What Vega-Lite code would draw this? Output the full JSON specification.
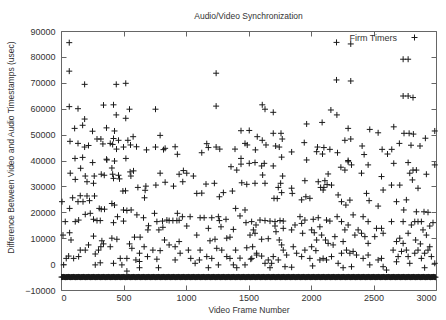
{
  "$schema": "https://vega.github.io/schema/vega-lite/v6.json",
  "width": 375,
  "height": 259,
  "autosize": "none",
  "padding": {"left": 61, "top": 31, "right": 10, "bottom": 30},
  "background": "white",
  "title": {"text": "Audio/Video Synchronization", "fontSize": 8.5, "font": "Liberation Sans", "fontWeight": "normal", "color": "#333333", "offset": 7, "anchor": "middle"},
  "config": {
    "view": {"stroke": "#666666", "strokeWidth": 1},
    "axis": {"grid": false, "domain": false, "tickColor": "#666666", "tickSize": -5, "labelFont": "Liberation Sans", "labelFontSize": 9, "labelColor": "#333333", "titleFont": "Liberation Sans", "titleFontSize": 8.5, "titleFontWeight": "normal", "titleColor": "#333333", "format": "d"}
  },
  "datasets": {
    "pts": [
      {"f":66,"d":85500},{"f":66,"d":74500},{"f":189,"d":69400},{"f":442,"d":69400},{"f":518,"d":69800},{"f":1241,"d":73700},{"f":1241,"d":61000},{"f":66,"d":60800},{"f":136,"d":60000},{"f":340,"d":61400},{"f":420,"d":61500},{"f":548,"d":59800},{"f":756,"d":59800},{"f":442,"d":57600},{"f":518,"d":56300},{"f":189,"d":56000},{"f":173,"d":53600},{"f":109,"d":52400},{"f":364,"d":52600},{"f":252,"d":51300},{"f":428,"d":51400},{"f":1440,"d":51500},{"f":1506,"d":51600},{"f":793,"d":49700},{"f":1570,"d":49200},{"f":577,"d":49200},{"f":72,"d":47400},{"f":288,"d":48300},{"f":319,"d":48300},{"f":420,"d":48500},{"f":136,"d":46600},{"f":335,"d":46400},{"f":394,"d":46600},{"f":413,"d":46200},{"f":460,"d":47800},{"f":535,"d":47800},{"f":556,"d":46000},{"f":189,"d":45200},{"f":220,"d":45800},{"f":444,"d":44400},{"f":500,"d":45200},{"f":604,"d":45300},{"f":684,"d":44100},{"f":756,"d":45200},{"f":820,"d":44200},{"f":833,"d":44700},{"f":913,"d":45300},{"f":931,"d":42400},{"f":1126,"d":43000},{"f":1166,"d":46500},{"f":1179,"d":45000},{"f":1241,"d":45200},{"f":1270,"d":44400},{"f":1392,"d":44400},{"f":1472,"d":46600},{"f":1490,"d":46000},{"f":1555,"d":44100},{"f":112,"d":40800},{"f":173,"d":41200},{"f":519,"d":40800},{"f":364,"d":40500},{"f":1440,"d":40800},
      {"f":2204,"d":85600},{"f":2318,"d":85000},{"f":2204,"d":71100},{"f":2318,"d":70700},{"f":2737,"d":79100},{"f":2777,"d":79100},{"f":2737,"d":64900},{"f":2777,"d":64900},{"f":2816,"d":64300},{"f":1610,"d":61500},{"f":1632,"d":59800},{"f":1698,"d":58600},{"f":2159,"d":59500},{"f":2207,"d":57600},{"f":2089,"d":54700},{"f":1965,"d":54100},{"f":2297,"d":52400},{"f":2470,"d":52000},{"f":2537,"d":50700},{"f":2662,"d":53000},{"f":2744,"d":50500},{"f":2785,"d":50500},{"f":2819,"d":50200},{"f":2990,"d":51400},{"f":1610,"d":47800},{"f":1640,"d":46000},{"f":1698,"d":50500},{"f":1760,"d":50500},{"f":1770,"d":48300},{"f":1717,"d":45600},{"f":1746,"d":45200},{"f":1946,"d":46900},{"f":1845,"d":43300},{"f":2052,"d":45200},{"f":2103,"d":45000},{"f":2045,"d":43400},{"f":2092,"d":42500},{"f":2151,"d":44300},{"f":2212,"d":43000},{"f":2271,"d":47800},{"f":2318,"d":48300},{"f":2409,"d":45600},{"f":2425,"d":42300},{"f":2569,"d":44300},{"f":2612,"d":42500},{"f":2646,"d":44300},{"f":2707,"d":46600},{"f":2800,"d":45900},{"f":2872,"d":45600},{"f":2915,"d":48600},{"f":1765,"d":41300},{"f":2297,"d":40000},{"f":1965,"d":40200},
      {"f":367,"d":40200},{"f":428,"d":39800},{"f":253,"d":39200},{"f":74,"d":35100},{"f":157,"d":37000},{"f":194,"d":34000},{"f":114,"d":32700},{"f":266,"d":34000},{"f":322,"d":34700},{"f":346,"d":34300},{"f":407,"d":37100},{"f":413,"d":34700},{"f":460,"d":34300},{"f":553,"d":35600},{"f":580,"d":36000},{"f":559,"d":34000},{"f":208,"d":31800},{"f":260,"d":31200},{"f":420,"d":33100},{"f":468,"d":32900},{"f":495,"d":28200},{"f":516,"d":28300},{"f":615,"d":29600},{"f":679,"d":30100},{"f":673,"d":28500},{"f":668,"d":25600},{"f":759,"d":30500},{"f":793,"d":35100},{"f":833,"d":31600},{"f":900,"d":30100},{"f":945,"d":34700},{"f":979,"d":36100},{"f":1006,"d":35100},{"f":1059,"d":34000},{"f":974,"d":31800},{"f":1086,"d":27300},{"f":1126,"d":27400},{"f":1160,"d":30900},{"f":1227,"d":31200},{"f":1267,"d":26000},{"f":1299,"d":27600},{"f":1360,"d":37600},{"f":1406,"d":36300},{"f":1440,"d":38600},{"f":1506,"d":38900},{"f":1446,"d":31400},{"f":1486,"d":30800},{"f":1552,"d":31200},{"f":1371,"d":28200},{"f":1397,"d":21500},{"f":1432,"d":18600},{"f":1472,"d":20900},
      {"f":8,"d":24100},{"f":34,"d":16400},{"f":93,"d":25600},{"f":69,"d":21500},{"f":136,"d":24100},{"f":154,"d":26400},{"f":176,"d":24100},{"f":208,"d":26300},{"f":268,"d":26300},{"f":228,"d":24500},{"f":194,"d":19200},{"f":234,"d":19600},{"f":260,"d":17300},{"f":306,"d":21500},{"f":322,"d":21200},{"f":348,"d":21200},{"f":288,"d":16800},{"f":314,"d":16800},{"f":407,"d":23400},{"f":428,"d":22800},{"f":500,"d":20900},{"f":527,"d":20700},{"f":561,"d":20900},{"f":452,"d":18300},{"f":420,"d":16000},{"f":500,"d":16600},{"f":607,"d":19000},{"f":660,"d":17900},{"f":700,"d":14800},{"f":748,"d":19600},{"f":767,"d":16400},{"f":812,"d":16600},{"f":847,"d":17000},{"f":865,"d":16800},{"f":895,"d":16800},{"f":927,"d":16800},{"f":945,"d":16900},{"f":815,"d":14200},{"f":783,"d":13200},{"f":695,"d":13200},{"f":633,"d":10400},{"f":588,"d":10400},{"f":931,"d":19600},{"f":971,"d":18300},{"f":1033,"d":18300},{"f":1006,"d":14700},{"f":1086,"d":11200},{"f":1113,"d":17900},{"f":1145,"d":17900},{"f":1179,"d":13800},{"f":1206,"d":17900},{"f":1259,"d":18300},{"f":1267,"d":16800},{"f":1280,"d":14400},{"f":1320,"d":17300},{"f":1379,"d":13400},{"f":1352,"d":10400},{"f":1326,"d":10000},{"f":1232,"d":9600},{"f":1192,"d":9000},{"f":1246,"d":6100},{"f":1286,"d":5400},{"f":1326,"d":2900},{"f":1397,"d":5400},{"f":1432,"d":2300},{"f":1472,"d":-300},{"f":1518,"d":1900},{"f":1486,"d":6300},{"f":1512,"d":11200},{"f":1539,"d":13200},{"f":1560,"d":15100},{"f":1480,"d":16000},
      {"f":16,"d":11200},{"f":69,"d":12100},{"f":80,"d":9300},{"f":114,"d":16400},{"f":141,"d":17000},{"f":61,"d":3100},{"f":101,"d":2200},{"f":21,"d":-300},{"f":42,"d":2200},{"f":141,"d":2900},{"f":154,"d":5400},{"f":194,"d":5400},{"f":220,"d":7400},{"f":260,"d":10800},{"f":274,"d":3900},{"f":300,"d":5400},{"f":319,"d":6700},{"f":340,"d":7800},{"f":327,"d":9000},{"f":314,"d":500},{"f":274,"d":-300},{"f":394,"d":6700},{"f":407,"d":10000},{"f":447,"d":9600},{"f":474,"d":2200},{"f":527,"d":2200},{"f":487,"d":-300},{"f":420,"d":300},{"f":548,"d":7800},{"f":567,"d":6100},{"f":599,"d":1600},{"f":628,"d":4200},{"f":628,"d":1000},{"f":665,"d":6700},{"f":692,"d":2900},{"f":735,"d":5400},{"f":767,"d":1900},{"f":793,"d":5200},{"f":828,"d":9300},{"f":865,"d":7400},{"f":913,"d":6700},{"f":945,"d":8700},{"f":913,"d":1600},{"f":953,"d":4200},{"f":780,"d":-1400},{"f":628,"d":-1400},{"f":527,"d":-2700},{"f":1019,"d":5400},{"f":1038,"d":2200},{"f":1073,"d":300},{"f":1107,"d":1600},{"f":1113,"d":5400},{"f":1166,"d":2900},{"f":1206,"d":2200},{"f":1179,"d":-1400},{"f":1259,"d":-300},{"f":1352,"d":2200},{"f":1379,"d":-300},{"f":1406,"d":-1400},{"f":1526,"d":2200},{"f":1565,"d":4200},
      {"f":1552,"d":39200},{"f":1605,"d":37900},{"f":1626,"d":38900},{"f":1698,"d":37900},{"f":1613,"d":34400},{"f":1632,"d":31200},{"f":1738,"d":29600},{"f":1757,"d":31200},{"f":1773,"d":34000},{"f":1765,"d":27600},{"f":1704,"d":25400},{"f":1730,"d":25300},{"f":1845,"d":29300},{"f":1850,"d":27300},{"f":1951,"d":32200},{"f":1925,"d":24800},{"f":1959,"d":26000},{"f":1991,"d":25400},{"f":2058,"d":31800},{"f":2077,"d":29600},{"f":2103,"d":29600},{"f":2129,"d":30700},{"f":2164,"d":30500},{"f":2097,"d":28600},{"f":2137,"d":34800},{"f":2111,"d":32200},{"f":2217,"d":26700},{"f":2239,"d":37400},{"f":2271,"d":36300},{"f":2297,"d":39500},{"f":2324,"d":38300},{"f":2244,"d":24100},{"f":2279,"d":22800},{"f":2311,"d":24700},{"f":2337,"d":19000},{"f":2404,"d":35100},{"f":2457,"d":38300},{"f":2444,"d":27300},{"f":2465,"d":24500},{"f":2537,"d":22400},{"f":2564,"d":33800},{"f":2577,"d":28600},{"f":2644,"d":30500},{"f":2662,"d":38900},{"f":2710,"d":30500},{"f":2684,"d":24100},{"f":2742,"d":20900},{"f":2777,"d":39200},{"f":2790,"d":35100},{"f":2816,"d":36300},{"f":2843,"d":36300},{"f":2923,"d":34700},{"f":2811,"d":32500},{"f":2856,"d":29300},{"f":2763,"d":24800},{"f":2843,"d":20200},{"f":2904,"d":20200},{"f":2936,"d":20000},{"f":2990,"d":38300},
      {"f":1525,"d":16400},{"f":1592,"d":17000},{"f":1632,"d":16800},{"f":1672,"d":16600},{"f":1712,"d":16400},{"f":1752,"d":16800},{"f":1778,"d":16600},{"f":1552,"d":11900},{"f":1605,"d":9600},{"f":1658,"d":9800},{"f":1712,"d":14700},{"f":1720,"d":12500},{"f":1778,"d":13800},{"f":1746,"d":9300},{"f":1533,"d":6700},{"f":1565,"d":3500},{"f":1605,"d":3100},{"f":1632,"d":300},{"f":1658,"d":1600},{"f":1685,"d":300},{"f":1672,"d":-1400},{"f":1698,"d":2900},{"f":1738,"d":1600},{"f":1778,"d":5400},{"f":1765,"d":7400},{"f":1792,"d":-1000},{"f":1845,"d":-1200},{"f":1805,"d":3500},{"f":1845,"d":13200},{"f":1872,"d":15100},{"f":1858,"d":6700},{"f":1885,"d":4200},{"f":1925,"d":15700},{"f":1912,"d":18300},{"f":1951,"d":17000},{"f":1933,"d":11900},{"f":1951,"d":5400},{"f":1925,"d":2900},{"f":2018,"d":17300},{"f":2058,"d":17900},{"f":2005,"d":13200},{"f":2026,"d":12100},{"f":2071,"d":14400},{"f":2045,"d":9300},{"f":2085,"d":11200},{"f":2124,"d":17000},{"f":2151,"d":16600},{"f":2116,"d":9300},{"f":2137,"d":8000},{"f":2177,"d":7400},{"f":2191,"d":10600},{"f":2005,"d":6700},{"f":2039,"d":5200},{"f":1991,"d":2200},{"f":2013,"d":-700},{"f":2071,"d":1600},{"f":2097,"d":2200},{"f":2124,"d":1600},{"f":2164,"d":2900},{"f":2217,"d":300},{"f":2209,"d":18300},{"f":2244,"d":16400},{"f":2271,"d":13200},{"f":2297,"d":15100},{"f":2257,"d":8700},{"f":2284,"d":5400},{"f":2244,"d":4200},{"f":2311,"d":4200},{"f":2337,"d":4900},{"f":2364,"d":3500},{"f":2257,"d":-1400},{"f":2324,"d":-1000},{"f":2351,"d":11200},{"f":2377,"d":13200},{"f":2404,"d":11900},{"f":2431,"d":10600},{"f":2457,"d":8000},{"f":2417,"d":18300},{"f":2457,"d":16400},{"f":2524,"d":13800},{"f":2564,"d":13800},{"f":2577,"d":11900},{"f":2510,"d":10600},{"f":2457,"d":3500},{"f":2417,"d":2200},{"f":2470,"d":-300},{"f":2537,"d":1600},{"f":2564,"d":2200},{"f":2577,"d":-1000},{"f":2604,"d":-2300},{"f":2644,"d":16400},{"f":2684,"d":8700},{"f":2710,"d":10000},{"f":2737,"d":8000},{"f":2657,"d":5400},{"f":2697,"d":2900},{"f":2724,"d":4900},{"f":2763,"d":5400},{"f":2777,"d":2900},{"f":2790,"d":300},{"f":2830,"d":4200},{"f":2856,"d":5400},{"f":2883,"d":2200},{"f":2909,"d":4200},{"f":2936,"d":5400},{"f":2963,"d":2900},{"f":2684,"d":900},{"f":2737,"d":16400},{"f":2777,"d":11900},{"f":2803,"d":15100},{"f":2830,"d":16400},{"f":2856,"d":16400},{"f":2883,"d":16400},{"f":2896,"d":13200},{"f":2923,"d":11200},{"f":2950,"d":14700},{"f":2976,"d":16000},{"f":2837,"d":9300},{"f":2875,"d":7800},{"f":2950,"d":6700},{"f":2990,"d":300},{"f":2909,"d":-1400}
    ],
    "band": [
      {"f":4,"d":-5000},{"f":12,"d":-5000},{"f":20,"d":-4950},{"f":28,"d":-5000},{"f":36,"d":-5050},{"f":44,"d":-5000},{"f":52,"d":-5000},{"f":60,"d":-4950},{"f":68,"d":-5000},{"f":76,"d":-5050},
      {"f":84,"d":-5000},{"f":92,"d":-5000},{"f":100,"d":-4950},{"f":108,"d":-5000},{"f":116,"d":-5050},{"f":124,"d":-5000},{"f":132,"d":-5000},{"f":140,"d":-4950},{"f":148,"d":-5000},{"f":156,"d":-5050},
      {"f":164,"d":-5000},{"f":172,"d":-5000},{"f":180,"d":-4950},{"f":188,"d":-5000},{"f":196,"d":-5050},{"f":204,"d":-5000},{"f":212,"d":-5000},{"f":220,"d":-4950},{"f":228,"d":-5000},{"f":236,"d":-5050},
      {"f":244,"d":-5000},{"f":252,"d":-5000},{"f":260,"d":-4950},{"f":268,"d":-5000},{"f":276,"d":-5050},{"f":284,"d":-5000},{"f":292,"d":-5000},{"f":300,"d":-4950},{"f":308,"d":-5000},{"f":316,"d":-5050},
      {"f":324,"d":-5000},{"f":332,"d":-5000},{"f":340,"d":-4950},{"f":348,"d":-5000},{"f":356,"d":-5050},{"f":364,"d":-5000},{"f":372,"d":-5000},{"f":380,"d":-4950},{"f":388,"d":-5000},{"f":396,"d":-5050},
      {"f":404,"d":-5000},{"f":412,"d":-5000},{"f":420,"d":-4950},{"f":428,"d":-5000},{"f":436,"d":-5050},{"f":444,"d":-5000},{"f":452,"d":-5000},{"f":460,"d":-4950},{"f":468,"d":-5000},{"f":476,"d":-5050},
      {"f":484,"d":-5000},{"f":492,"d":-5000},{"f":500,"d":-4950},{"f":508,"d":-5000},{"f":516,"d":-5050},{"f":524,"d":-5000},{"f":532,"d":-5000},{"f":540,"d":-4950},{"f":548,"d":-5000},{"f":556,"d":-5050},
      {"f":564,"d":-5000},{"f":572,"d":-5000},{"f":580,"d":-4950},{"f":588,"d":-5000},{"f":596,"d":-5050},{"f":604,"d":-5000},{"f":612,"d":-5000},{"f":620,"d":-4950},{"f":628,"d":-5000},{"f":636,"d":-5050},
      {"f":644,"d":-5000},{"f":652,"d":-5000},{"f":660,"d":-4950},{"f":668,"d":-5000},{"f":676,"d":-5050},{"f":684,"d":-5000},{"f":692,"d":-5000},{"f":700,"d":-4950},{"f":708,"d":-5000},{"f":716,"d":-5050},
      {"f":724,"d":-5000},{"f":732,"d":-5000},{"f":740,"d":-4950},{"f":748,"d":-5000},{"f":756,"d":-5050},{"f":764,"d":-5000},{"f":772,"d":-5000},{"f":780,"d":-4950},{"f":788,"d":-5000},{"f":796,"d":-5050},
      {"f":804,"d":-5000},{"f":812,"d":-5000},{"f":820,"d":-4950},{"f":828,"d":-5000},{"f":836,"d":-5050},{"f":844,"d":-5000},{"f":852,"d":-5000},{"f":860,"d":-4950},{"f":868,"d":-5000},{"f":876,"d":-5050},
      {"f":884,"d":-5000},{"f":892,"d":-5000},{"f":900,"d":-4950},{"f":908,"d":-5000},{"f":916,"d":-5050},{"f":924,"d":-5000},{"f":932,"d":-5000},{"f":940,"d":-4950},{"f":948,"d":-5000},{"f":956,"d":-5050},
      {"f":964,"d":-5000},{"f":972,"d":-5000},{"f":980,"d":-4950},{"f":988,"d":-5000},{"f":996,"d":-5050},{"f":1004,"d":-5000},{"f":1012,"d":-5000},{"f":1020,"d":-4950},{"f":1028,"d":-5000},{"f":1036,"d":-5050},
      {"f":1044,"d":-5000},{"f":1052,"d":-5000},{"f":1060,"d":-4950},{"f":1068,"d":-5000},{"f":1076,"d":-5050},{"f":1084,"d":-5000},{"f":1092,"d":-5000},{"f":1100,"d":-4950},{"f":1108,"d":-5000},{"f":1116,"d":-5050},
      {"f":1124,"d":-5000},{"f":1132,"d":-5000},{"f":1140,"d":-4950},{"f":1148,"d":-5000},{"f":1156,"d":-5050},{"f":1164,"d":-5000},{"f":1172,"d":-5000},{"f":1180,"d":-4950},{"f":1188,"d":-5000},{"f":1196,"d":-5050},
      {"f":1204,"d":-5000},{"f":1212,"d":-5000},{"f":1220,"d":-4950},{"f":1228,"d":-5000},{"f":1236,"d":-5050},{"f":1244,"d":-5000},{"f":1252,"d":-5000},{"f":1260,"d":-4950},{"f":1268,"d":-5000},{"f":1276,"d":-5050},
      {"f":1284,"d":-5000},{"f":1292,"d":-5000},{"f":1300,"d":-4950},{"f":1308,"d":-5000},{"f":1316,"d":-5050},{"f":1324,"d":-5000},{"f":1332,"d":-5000},{"f":1340,"d":-4950},{"f":1348,"d":-5000},{"f":1356,"d":-5050},
      {"f":1364,"d":-5000},{"f":1372,"d":-5000},{"f":1380,"d":-4950},{"f":1388,"d":-5000},{"f":1396,"d":-5050},{"f":1404,"d":-5000},{"f":1412,"d":-5000},{"f":1420,"d":-4950},{"f":1428,"d":-5000},{"f":1436,"d":-5050},
      {"f":1444,"d":-5000},{"f":1452,"d":-5000},{"f":1460,"d":-4950},{"f":1468,"d":-5000},{"f":1476,"d":-5050},{"f":1484,"d":-5000},{"f":1492,"d":-5000},{"f":1500,"d":-4950},{"f":1508,"d":-5000},{"f":1516,"d":-5050},
      {"f":1524,"d":-5000},{"f":1532,"d":-5000},{"f":1540,"d":-4950},{"f":1548,"d":-5000},{"f":1556,"d":-5050},{"f":1564,"d":-5000},{"f":1572,"d":-5000},{"f":1580,"d":-4950},{"f":1588,"d":-5000},{"f":1596,"d":-5050},
      {"f":1604,"d":-5000},{"f":1612,"d":-5000},{"f":1620,"d":-4950},{"f":1628,"d":-5000},{"f":1636,"d":-5050},{"f":1644,"d":-5000},{"f":1652,"d":-5000},{"f":1660,"d":-4950},{"f":1668,"d":-5000},{"f":1676,"d":-5050},
      {"f":1684,"d":-5000},{"f":1692,"d":-5000},{"f":1700,"d":-4950},{"f":1708,"d":-5000},{"f":1716,"d":-5050},{"f":1724,"d":-5000},{"f":1732,"d":-5000},{"f":1740,"d":-4950},{"f":1748,"d":-5000},{"f":1756,"d":-5050},
      {"f":1764,"d":-5000},{"f":1772,"d":-5000},{"f":1780,"d":-4950},{"f":1788,"d":-5000},{"f":1796,"d":-5050},{"f":1804,"d":-5000},{"f":1812,"d":-5000},{"f":1820,"d":-4950},{"f":1828,"d":-5000},{"f":1836,"d":-5050},
      {"f":1844,"d":-5000},{"f":1852,"d":-5000},{"f":1860,"d":-4950},{"f":1868,"d":-5000},{"f":1876,"d":-5050},{"f":1884,"d":-5000},{"f":1892,"d":-5000},{"f":1900,"d":-4950},{"f":1908,"d":-5000},{"f":1916,"d":-5050},
      {"f":1924,"d":-5000},{"f":1932,"d":-5000},{"f":1940,"d":-4950},{"f":1948,"d":-5000},{"f":1956,"d":-5050},{"f":1964,"d":-5000},{"f":1972,"d":-5000},{"f":1980,"d":-4950},{"f":1988,"d":-5000},{"f":1996,"d":-5050},
      {"f":2004,"d":-5000},{"f":2012,"d":-5000},{"f":2020,"d":-4950},{"f":2028,"d":-5000},{"f":2036,"d":-5050},{"f":2044,"d":-5000},{"f":2052,"d":-5000},{"f":2060,"d":-4950},{"f":2068,"d":-5000},{"f":2076,"d":-5050},
      {"f":2084,"d":-5000},{"f":2092,"d":-5000},{"f":2100,"d":-4950},{"f":2108,"d":-5000},{"f":2116,"d":-5050},{"f":2124,"d":-5000},{"f":2132,"d":-5000},{"f":2140,"d":-4950},{"f":2148,"d":-5000},{"f":2156,"d":-5050},
      {"f":2164,"d":-5000},{"f":2172,"d":-5000},{"f":2180,"d":-4950},{"f":2188,"d":-5000},{"f":2196,"d":-5050},{"f":2204,"d":-5000},{"f":2212,"d":-5000},{"f":2220,"d":-4950},{"f":2228,"d":-5000},{"f":2236,"d":-5050},
      {"f":2244,"d":-5000},{"f":2252,"d":-5000},{"f":2260,"d":-4950},{"f":2268,"d":-5000},{"f":2276,"d":-5050},{"f":2284,"d":-5000},{"f":2292,"d":-5000},{"f":2300,"d":-4950},{"f":2308,"d":-5000},{"f":2316,"d":-5050},
      {"f":2324,"d":-5000},{"f":2332,"d":-5000},{"f":2340,"d":-4950},{"f":2348,"d":-5000},{"f":2356,"d":-5050},{"f":2364,"d":-5000},{"f":2372,"d":-5000},{"f":2380,"d":-4950},{"f":2388,"d":-5000},{"f":2396,"d":-5050},
      {"f":2404,"d":-5000},{"f":2412,"d":-5000},{"f":2420,"d":-4950},{"f":2428,"d":-5000},{"f":2436,"d":-5050},{"f":2444,"d":-5000},{"f":2452,"d":-5000},{"f":2460,"d":-4950},{"f":2468,"d":-5000},{"f":2476,"d":-5050},
      {"f":2484,"d":-5000},{"f":2492,"d":-5000},{"f":2500,"d":-4950},{"f":2508,"d":-5000},{"f":2516,"d":-5050},{"f":2524,"d":-5000},{"f":2532,"d":-5000},{"f":2540,"d":-4950},{"f":2548,"d":-5000},{"f":2556,"d":-5050},
      {"f":2564,"d":-5000},{"f":2572,"d":-5000},{"f":2580,"d":-4950},{"f":2588,"d":-5000},{"f":2596,"d":-5050},{"f":2604,"d":-5000},{"f":2612,"d":-5000},{"f":2620,"d":-4950},{"f":2628,"d":-5000},{"f":2636,"d":-5050},
      {"f":2644,"d":-5000},{"f":2652,"d":-5000},{"f":2660,"d":-4950},{"f":2668,"d":-5000},{"f":2676,"d":-5050},{"f":2684,"d":-5000},{"f":2692,"d":-5000},{"f":2700,"d":-4950},{"f":2708,"d":-5000},{"f":2716,"d":-5050},
      {"f":2724,"d":-5000},{"f":2732,"d":-5000},{"f":2740,"d":-4950},{"f":2748,"d":-5000},{"f":2756,"d":-5050},{"f":2764,"d":-5000},{"f":2772,"d":-5000},{"f":2780,"d":-4950},{"f":2788,"d":-5000},{"f":2796,"d":-5050},
      {"f":2804,"d":-5000},{"f":2812,"d":-5000},{"f":2820,"d":-4950},{"f":2828,"d":-5000},{"f":2836,"d":-5050},{"f":2844,"d":-5000},{"f":2852,"d":-5000},{"f":2860,"d":-4950},{"f":2868,"d":-5000},{"f":2876,"d":-5050},
      {"f":2884,"d":-5000},{"f":2892,"d":-5000},{"f":2900,"d":-4950},{"f":2908,"d":-5000},{"f":2916,"d":-5050},{"f":2924,"d":-5000},{"f":2932,"d":-5000},{"f":2940,"d":-4950},{"f":2948,"d":-5000},{"f":2956,"d":-5050},
      {"f":2964,"d":-5000},{"f":2972,"d":-5000},{"f":2980,"d":-4950},{"f":2988,"d":-5000},{"f":2996,"d":-5050}
    ]
  },
  "layer": [
    {
      "data": {"name": "band"},
      "mark": {"type": "point", "shape": "M-1,0H1M0,-1V1", "filled": false, "size": 36, "strokeWidth": 1, "opacity": 1},
      "encoding": {
        "x": {"field": "f", "type": "quantitative", "scale": {"domain": [0, 3000], "nice": false}, "axis": {"values": [0, 500, 1000, 1500, 2000, 2500, 3000], "title": "Video Frame Number", "labelPadding": 8, "titlePadding": 3}},
        "y": {"field": "d", "type": "quantitative", "scale": {"domain": [-10000, 90000], "nice": false}, "axis": {"values": [-10000, 0, 10000, 20000, 30000, 40000, 50000, 60000, 70000, 80000, 90000], "title": "Difference Between Video and Audio Timestamps (usec)", "labelPadding": 11, "titlePadding": 9, "titleY": 116}},
        "color": {"datum": "Firm Timers", "scale": {"range": ["#1a1a1a"]}, "legend": {"orient": "none", "legendX": 349, "legendY": 2, "title": null, "padding": 0, "labelAlign": "right", "labelOffset": -22, "labelFont": "Liberation Sans", "labelFontSize": 9, "labelColor": "#333333", "symbolType": "M-1,0H1M0,-1V1", "symbolSize": 36, "symbolStrokeWidth": 1, "symbolStrokeColor": "#1a1a1a", "symbolFillColor": "transparent"}}
      }
    },
    {
      "data": {"name": "pts"},
      "mark": {"type": "point", "shape": "M-1,0H1M0,-1V1", "filled": false, "size": 36, "strokeWidth": 1, "opacity": 1},
      "encoding": {
        "x": {"field": "f", "type": "quantitative", "axis": null},
        "y": {"field": "d", "type": "quantitative", "axis": null},
        "color": {"datum": "Firm Timers"}
      }
    },
    {
      "data": {"name": "pts"},
      "transform": [{"filter": "false"}],
      "mark": {"type": "point"},
      "encoding": {
        "x": {"field": "f", "type": "quantitative", "axis": {"orient": "top", "values": [0, 500, 1000, 1500, 2000, 2500, 3000], "labels": false, "title": null}},
        "y": {"field": "d", "type": "quantitative", "axis": {"orient": "right", "values": [-10000, 0, 10000, 20000, 30000, 40000, 50000, 60000, 70000, 80000, 90000], "labels": false, "title": null}}
      }
    }
  ],
  "resolve": {"axis": {"x": "independent", "y": "independent"}}
}
